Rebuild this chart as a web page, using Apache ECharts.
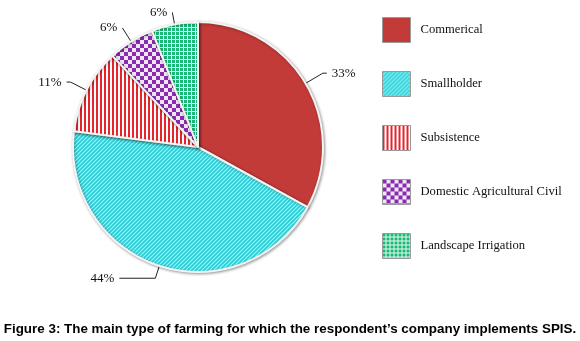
<!DOCTYPE html>
<html>
<head>
    <meta charset="utf-8" />
    <title>Main type of farming</title>
    <script src="https://cdn.jsdelivr.net/npm/echarts@6/dist/echarts.min.js"></script>
    <style>
        html, body { margin: 0; padding: 0; background: #fff; }
        #chart { width: 580px; height: 341px; }
    </style>
</head>
<body>
    <div id="chart"></div>
    <script>
        // data
        var categories = ['Commerical', 'Smallholder', 'Subsistence', 'Domestic Agricultural Civil', 'Landscape Irrigation'];
        var shares = [33, 44, 11, 6, 6];
        var caption = 'Figure 3: The main type of farming for which the respondent\u2019s company implements SPIS.';

        // leader line lengths per slice (first segment, horizontal segment)
        var lineLen = [[20, 4], [13, 36], [18, 4], [16, 0], [12, 0]];

        // fill patterns
        function makePattern(draw, w, h) {
            var c = document.createElement('canvas');
            c.width = w; c.height = h;
            draw(c.getContext('2d'));
            return { image: c, repeat: 'repeat' };
        }
        var fills = [
            '#c23b38',
            makePattern(function (g) {
                g.fillStyle = '#22d0da'; g.fillRect(0, 0, 4, 4);
                g.strokeStyle = '#a8f2f4'; g.lineWidth = 1.2;
                g.beginPath();
                g.moveTo(-1, 5); g.lineTo(5, -1);
                g.moveTo(-1, 1); g.lineTo(1, -1);
                g.moveTo(3, 5); g.lineTo(5, 3);
                g.stroke();
            }, 4, 4),
            makePattern(function (g) {
                g.fillStyle = '#ffffff'; g.fillRect(0, 0, 4, 4);
                g.fillStyle = '#e5242b'; g.fillRect(0, 0, 2, 4);
            }, 4, 4),
            makePattern(function (g) {
                g.fillStyle = '#f1e6f6'; g.fillRect(0, 0, 8, 8);
                g.fillStyle = '#8a2cb0';
                g.fillRect(0, 0, 4, 4); g.fillRect(4, 4, 4, 4);
            }, 8, 8),
            makePattern(function (g) {
                g.fillStyle = '#eafaf2'; g.fillRect(0, 0, 4, 4);
                g.fillStyle = '#19b977'; g.fillRect(0, 0, 3, 3);
            }, 4, 4)
        ];

        var chart = echarts.init(document.getElementById('chart'));
        chart.setOption({
            backgroundColor: '#fff',
            animation: false,
            title: {
                text: caption,
                left: 'center',
                top: 318,
                textStyle: {
                    fontFamily: 'Liberation Sans, Arial',
                    fontSize: 13.4,
                    fontWeight: 'bold',
                    color: '#000'
                }
            },
            legend: {
                orient: 'vertical',
                left: 377,
                top: 12,
                icon: 'rect',
                itemWidth: 28,
                itemHeight: 25,
                itemGap: 28,
                data: categories,
                itemStyle: { borderColor: '#9a9a9a', borderWidth: 1 },
                textStyle: {
                    fontFamily: 'Liberation Serif, Times New Roman',
                    fontSize: 12.6,
                    color: '#111',
                    padding: [0, 0, 0, 5]
                }
            },
            series: [{
                type: 'pie',
                center: [198, 147],
                radius: 125,
                startAngle: 90,
                clockwise: true,
                data: categories.map(function (name, i) {
                    return {
                        name: name,
                        value: shares[i],
                        itemStyle: { color: fills[i] },
                        labelLine: { length: lineLen[i][0], length2: lineLen[i][1] }
                    };
                }),
                itemStyle: {
                    borderColor: '#f4f4f4',
                    borderWidth: 2,
                    shadowBlur: 3,
                    shadowColor: 'rgba(0,0,0,0.35)',
                    shadowOffsetX: 1,
                    shadowOffsetY: 1
                },
                label: {
                    show: true,
                    position: 'outside',
                    formatter: '{c}%',
                    fontFamily: 'Liberation Serif, Times New Roman',
                    fontSize: 13,
                    color: '#111'
                },
                labelLine: {
                    show: true,
                    lineStyle: { color: '#222', width: 1 }
                },
                emphasis: { disabled: true }
            }]
        });
    </script>
</body>
</html>
